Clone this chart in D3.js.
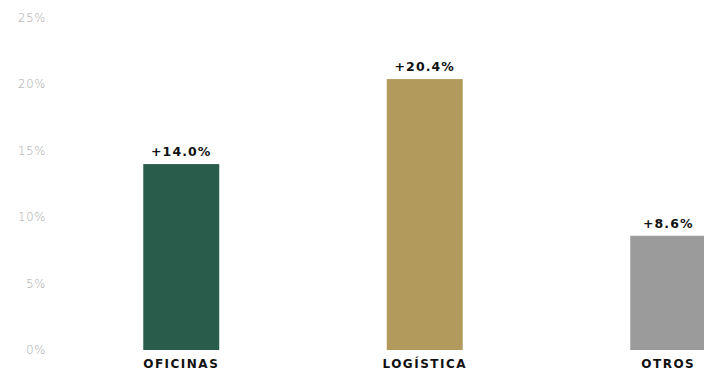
<!DOCTYPE html>
<html lang="es">
<head>
<meta charset="UTF-8">
<title>Crecimiento por sector</title>
<style>
  body { margin: 0; background: #fff; }
  svg { display: block; }
  .tick-label { font-family: "DejaVu Sans", sans-serif; font-weight: 200; font-size: 11.5px; letter-spacing: 0.8px; fill: #a6a6a6; }
  .cat-label { font-family: "DejaVu Sans", sans-serif; font-weight: 700; font-size: 12px; letter-spacing: 1.5px; fill: #111; }
  .val-label { font-family: "DejaVu Sans", sans-serif; font-weight: 700; font-size: 12.5px; letter-spacing: 1.1px; fill: #111; }
</style>
</head>
<body>
<svg width="704" height="374"></svg>
<script src="https://d3js.org/d3.v7.min.js"></script>
<script>
// data
var categories = ["OFICINAS", "LOGÍSTICA", "OTROS"];
var values = [14.0, 20.4, 8.6];
var barColors = ["#2a5c4c", "#b2995c", "#9b9b9b"];
var tickValues = [0, 5, 10, 15, 20, 25];

var svg = d3.select("svg");

var y = d3.scaleLinear().domain([0, 25]).range([350, 18]);
var x = d3.scaleBand().domain(categories).range([59.5, 790]).paddingInner(0.688).paddingOuter(0.344);

// y tick labels (no axis line)
svg.append("g").selectAll("text")
  .data(tickValues)
  .enter().append("text")
    .attr("class", "tick-label")
    .attr("x", 46)
    .attr("y", function(d) { return y(d); })
    .attr("dy", "0.35em")
    .attr("text-anchor", "end")
    .text(function(d) { return d + "%"; });

var g = svg.append("g");

g.selectAll("rect")
  .data(values)
  .enter().append("rect")
    .attr("x", function(d, i) { return x(categories[i]); })
    .attr("y", function(d) { return y(d); })
    .attr("width", x.bandwidth())
    .attr("height", function(d) { return y(0) - y(d); })
    .attr("fill", function(d, i) { return barColors[i]; });

g.selectAll(".val-label")
  .data(values)
  .enter().append("text")
    .attr("class", "val-label")
    .attr("x", function(d, i) { return x(categories[i]) + x.bandwidth() / 2; })
    .attr("y", function(d) { return y(d) - 8; })
    .attr("text-anchor", "middle")
    .text(function(d) { return "+" + d.toFixed(1) + "%"; });

g.selectAll(".cat-label")
  .data(categories)
  .enter().append("text")
    .attr("class", "cat-label")
    .attr("x", function(d) { return x(d) + x.bandwidth() / 2; })
    .attr("y", 368)
    .attr("text-anchor", "middle")
    .text(function(d) { return d; });
</script>
</body>
</html>
